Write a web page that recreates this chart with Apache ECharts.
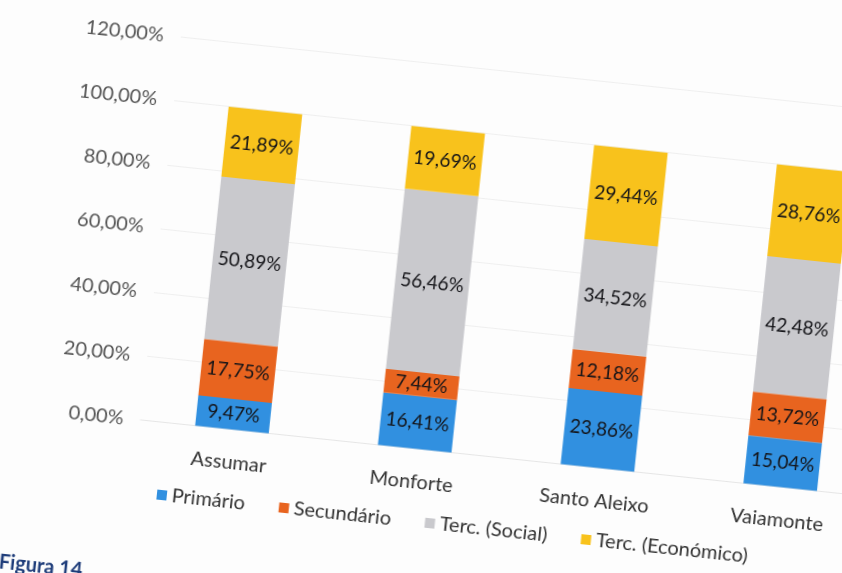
<!DOCTYPE html>
<html>
<head>
<meta charset="utf-8">
<script src="https://cdn.jsdelivr.net/npm/echarts@6/dist/echarts.min.js"></script>
<style>
  html, body { margin: 0; padding: 0; width: 842px; height: 573px; overflow: hidden; background: #fdfdfd; }
  #chart {
    position: absolute;
    width: 960px;
    height: 680px;
    left: -59px;
    top: -53.5px;
    transform: rotate(6deg);
    transform-origin: 50% 50%;
  }
</style>
</head>
<body>
<div id="chart"></div>
<script>
const categories = ['Assumar', 'Monforte', 'Santo Aleixo', 'Vaiamonte']
const primario = [9.47, 16.41, 23.86, 15.04]
const secundario = [17.75, 7.44, 12.18, 13.72]
const tercSocial = [50.89, 56.46, 34.52, 42.48]
const tercEconomico = [21.89, 19.69, 29.44, 28.76]

const fmt = v => v.toFixed(2).replace('.', ',') + '%'
const font = 'Lato, "Open Sans", sans-serif'

const myChart = echarts.init(document.getElementById('chart'))

const bar = (name, data, color) => ({
  name: name,
  type: 'bar',
  stack: 'total',
  data: data,
  barWidth: 74,
  itemStyle: { color: color },
  label: {
    show: true,
    position: 'inside',
    formatter: p => fmt(p.value),
    color: '#141418',
    fontSize: 19,
    fontFamily: font
  }
})

const option = {
  animation: false,
  textStyle: { fontFamily: font },
  grid: {
    left: 215,
    right: 10,
    top: 116.5,
    bottom: 178.5
  },
  legend: {
    left: 234,
    top: 559,
    itemWidth: 10,
    itemHeight: 10,
    itemGap: 34,
    icon: 'rect',
    textStyle: { color: '#333', fontSize: 20, fontFamily: font }
  },
  xAxis: {
    type: 'category',
    data: categories,
    axisLine: { show: true, lineStyle: { color: '#e6e6e6' } },
    axisTick: { show: false },
    axisLabel: { color: '#333', fontSize: 20, margin: 23, fontFamily: font }
  },
  yAxis: {
    type: 'value',
    min: 0,
    max: 120,
    interval: 20,
    axisLine: { show: false },
    axisTick: { show: false },
    splitLine: { lineStyle: { color: '#efefef' } },
    axisLabel: {
      color: '#555',
      fontSize: 20,
      margin: 17,
      fontFamily: font,
      formatter: v => fmt(v)
    }
  },
  graphic: [
    {
      type: 'text',
      left: 89,
      top: 648,
      style: {
        text: 'Figura 14.',
        fill: '#1f3d7a',
        font: 'bold 20px ' + font
      }
    }
  ],
  series: [
    bar('Primário', primario, '#3190e0'),
    bar('Secundário', secundario, '#e8641f'),
    bar('Terc. (Social)', tercSocial, '#c9c9cd'),
    bar('Terc. (Económico)', tercEconomico, '#f8c21c')
  ]
}

myChart.setOption(option)

window.addEventListener('resize', () => {
  myChart.resize()
})
</script>
</body>
</html>
